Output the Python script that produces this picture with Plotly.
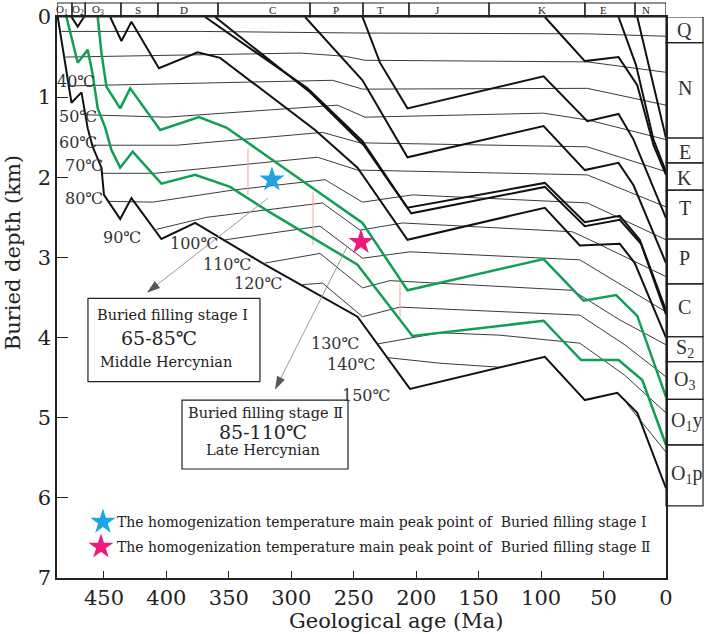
import plotly.graph_objects as go

# periods in the top strip (boundary ages in Ma, label positions)
period_names = ["O<sub>1</sub>", "O<sub>2</sub>", "O<sub>3</sub>", "S", "D", "C", "P", "T", "J", "K", "E", "N"]
period_bounds = [487.6, 475.6, 465.0, 436.4, 406.8, 358.7, 285.0, 242.6, 205.8, 141.7, 64.9, 24.8, 0]
period_label_age = [483.6, 470.8, 454.8, 422.8, 386.0, 314.7, 264.2, 228.2, 182.6, 99.3, 50.4, 16.0]

# present-day strata column (depths in km)
strata_names = ["Q", "N", "E", "K", "T", "P", "C", "S<sub>2</sub>", "O<sub>3</sub>", "O<sub>1</sub>y", "O<sub>1</sub>p"]
strata_bounds = [0, 0.32, 1.51, 1.82, 2.16, 2.77, 3.33, 3.99, 4.30, 4.77, 5.34, 6.10]
strata_label_depth = [0.16, 0.89, 1.68, 2.01, 2.38, 3.01, 3.62, 4.14, 4.53, 5.05, 5.71]

# burial curves (age Ma, depth km)
o1p_age = [487, 476, 468, 463, 459, 452, 450, 437, 428, 404, 377, 320, 247, 205, 97, 65, 39, 23, 0]
o1p_depth = [0, 1.07, 0.94, 1.39, 1.62, 1.88, 2.22, 2.52, 2.26, 2.77, 2.57, 3.10, 3.74, 4.64, 4.24, 4.78, 4.69, 4.94, 5.88]
o2_age = [476, 471, 466]
o2_depth = [0, 0.12, 0]
s_age = [445, 436, 428, 406, 375, 357, 281, 247, 207, 97, 69, 37, 25, 0]
s_depth = [0, 0.30, 0.06, 0.64, 0.44, 0.51, 1.41, 1.88, 2.78, 2.38, 2.85, 2.83, 3.07, 4.0]
c1_age = [369, 287, 243, 207, 97, 65, 37, 21, 0]
c1_depth = [0, 0.89, 1.55, 2.38, 2.07, 2.56, 2.48, 2.78, 3.66]
c2_age = [361, 285, 242, 204, 97, 65, 37, 20, 0]
c2_depth = [0, 0.94, 1.60, 2.45, 2.12, 2.61, 2.53, 2.83, 3.71]
p_age = [289, 243, 207, 98, 65, 38, 26, 0]
p_depth = [0, 0.79, 1.75, 1.36, 1.91, 1.82, 2.10, 3.07]
t_age = [243, 229, 207, 98, 63, 38, 26, 0]
t_depth = [0, 0.57, 1.14, 0.74, 1.30, 1.21, 1.53, 2.51]
k_age = [97, 65, 38, 23, 10, 0]
k_depth = [0, 0.55, 0.50, 0.85, 1.60, 1.97]
e_age = [38, 24, 10, 0]
e_depth = [0, 0.60, 1.53, 1.93]
n_age = [23, 0]
n_depth = [0, 1.51]

# green curves
g_upper_age = [455, 452, 448, 437, 429, 405, 374, 352, 243, 207, 98, 66, 40, 23, 0]
g_upper_depth = [0, 0.45, 0.87, 1.14, 0.89, 1.41, 1.25, 1.38, 2.57, 3.41, 3.02, 3.54, 3.47, 3.73, 4.74]
g_lower_age = [480, 471, 463, 459, 455, 449, 444, 437, 427, 404, 377, 349, 320, 247, 203, 98, 68, 38, 19, 0]
g_lower_depth = [0, 0.57, 0.41, 0.72, 1.14, 1.38, 1.66, 1.88, 1.68, 2.08, 1.97, 2.12, 2.41, 3.09, 3.98, 3.79, 4.28, 4.28, 4.53, 5.34]

# isotherms
iso20_age = [484, 373, 245, 63, 0]
iso20_depth = [0.18, 0.18, 0.20, 0.21, 0.24]
iso30_age = [481, 293, 257, 241, 63, 0]
iso30_depth = [0.50, 0.45, 0.49, 0.54, 0.56, 0.69]
iso40_age = [478, 267, 243, 63, 0]
iso40_depth = [0.86, 0.79, 0.90, 0.89, 1.10]
iso50_age = [464, 400, 263, 241, 98, 61, 0]
iso50_depth = [1.22, 1.25, 1.10, 1.25, 1.20, 1.29, 1.53]
iso60_age = [460, 392, 275, 245, 63, 0]
iso60_depth = [1.60, 1.60, 1.44, 1.57, 1.62, 1.93]
iso70_age = [452, 409, 279, 247, 63, 0]
iso70_depth = [1.95, 1.95, 1.75, 1.91, 1.97, 2.37]
iso80_age = [447, 411, 347, 273, 243, 203, 63, 0]
iso80_depth = [2.30, 2.31, 2.16, 2.03, 2.31, 2.22, 2.32, 2.78]
iso90_age = [408, 368, 275, 245, 211, 75, 61, 0]
iso90_depth = [2.65, 2.50, 2.32, 2.66, 2.57, 2.68, 2.78, 3.24]
iso100_age = [353, 277, 243, 205, 69, 29, 0]
iso100_depth = [2.78, 2.61, 3.01, 2.93, 3.03, 3.41, 3.68]
iso110_age = [321, 277, 243, 221, 75, 37, 0]
iso110_depth = [3.07, 2.95, 3.38, 3.29, 3.41, 3.78, 4.09]
iso120_age = [291, 275, 243, 213, 69, 33, 0]
iso120_depth = [3.34, 3.32, 3.74, 3.62, 3.72, 4.09, 4.49]
iso130_age = [231, 181, 133, 69, 33, 0]
iso130_depth = [4.08, 3.94, 3.97, 4.07, 4.47, 4.94]
iso140_age = [223, 181, 133, None, 31, 13, 0]
iso140_depth = [4.25, 4.32, 4.37, None, 4.83, 5.18, 5.43]

temp_values = [40, 50, 60, 70, 80, 90, 100, 110, 120, 130, 140, 150]
temp_label_age = [472.4, 470.8, 470.8, 466.0, 466.0, 435.6, 377.9, 351.5, 326.7, 265.0, 252.2, 240.2]
temp_label_depth = [0.80, 1.24, 1.56, 1.85, 2.26, 2.75, 2.83, 3.09, 3.33, 4.07, 4.34, 4.72]

# homogenization temperature peak points
star_age = [315.5, 244.2]
star_depth = [2.03, 2.81]
# red links between the green curves
red_age = [334.7, 282.6, 213.0]
red_top = [1.64, 2.18, 3.32]
red_bottom = [2.22, 2.85, 3.74]
# pointer lines to the boxes
arrow1_age = [318.7, 415.6]
arrow1_depth = [2.26, 3.44]
arrow2_age = [255.4, 313.1]
arrow2_depth = [2.87, 4.65]

SERIF = "DejaVu Serif, serif"
TIMES = "Liberation Serif, Noto Sans CJK SC, serif"
BLUE = "#1fa3e3"
PINK = "#ec1a7d"
GREEN = "#10a055"

fig = go.Figure()


def add_line(ages, depths, color, width):
    fig.add_trace(go.Scatter(x=ages, y=depths, mode="lines",
                             line=dict(color=color, width=width),
                             hoverinfo="skip", showlegend=False, connectgaps=False))


for a, d in [(iso20_age, iso20_depth), (iso30_age, iso30_depth), (iso40_age, iso40_depth),
             (iso50_age, iso50_depth), (iso60_age, iso60_depth), (iso70_age, iso70_depth),
             (iso80_age, iso80_depth), (iso90_age, iso90_depth), (iso100_age, iso100_depth),
             (iso110_age, iso110_depth), (iso120_age, iso120_depth), (iso130_age, iso130_depth),
             (iso140_age, iso140_depth)]:
    add_line(a, d, "#3a3a3a", 1)

# red links
rx, ry = [], []
for a, t, b in zip(red_age, red_top, red_bottom):
    rx += [a, a, None]
    ry += [t, b, None]
add_line(rx, ry, "#f4a0a0", 1)

for a, d in [(o1p_age, o1p_depth), (o2_age, o2_depth), (s_age, s_depth), (c1_age, c1_depth),
             (c2_age, c2_depth), (p_age, p_depth), (t_age, t_depth), (k_age, k_depth),
             (e_age, e_depth), (n_age, n_depth)]:
    add_line(a, d, "#111111", 2)

add_line(g_upper_age, g_upper_depth, GREEN, 2.5)
add_line(g_lower_age, g_lower_depth, GREEN, 2.5)

for a, d in [(arrow1_age, arrow1_depth), (arrow2_age, arrow2_depth)]:
    fig.add_trace(go.Scatter(x=a, y=d, mode="lines+markers",
                             line=dict(color="#9a9a9a", width=1),
                             marker=dict(symbol="arrow", size=[0, 14], color="#111",
                                         angleref="previous", line=dict(width=0)),
                             hoverinfo="skip", showlegend=False))

fig.add_trace(go.Scatter(x=star_age, y=star_depth, mode="markers",
                         marker=dict(symbol="star", size=19, color=[BLUE, PINK], line=dict(width=0)),
                         hoverinfo="skip", showlegend=False))

shapes = []
ann = []

# top strip
for i, name in enumerate(period_names):
    shapes.append(dict(type="rect", xref="x", yref="paper", x0=period_bounds[i], x1=period_bounds[i + 1],
                       y0=1, y1=1.025, line=dict(color="#222", width=1.2)))
    ann.append(dict(x=period_label_age[i], y=1.0125, xref="x", yref="paper", text=name, showarrow=False,
                    xanchor="center", yanchor="middle",
                    font=dict(family=TIMES, size=11, color="#222")))

# right strata column
for i, name in enumerate(strata_names):
    shapes.append(dict(type="rect", xref="paper", yref="y", x0=1, x1=1.0608,
                       y0=strata_bounds[i], y1=strata_bounds[i + 1], line=dict(color="#222", width=1.2)))
    left = name.endswith("y") or name.endswith("p")
    ann.append(dict(x=1.005 if left else 1.0304, y=strata_label_depth[i], xref="paper", yref="y",
                    text=name, showarrow=False, xanchor="left" if left else "center", yanchor="middle",
                    font=dict(family=TIMES, size=20, color="#333")))

for t, a, d in zip(temp_values, temp_label_age, temp_label_depth):
    ann.append(dict(x=a, y=d, xref="x", yref="y", text=f"{t}℃", showarrow=False,
                    font=dict(family=SERIF, size=16, color="#333")))

# stage boxes
shapes.append(dict(type="rect", xref="x", yref="y", x0=462.8, x1=325.1, y0=3.51, y1=4.55,
                   line=dict(color="#222", width=1.2), fillcolor="white"))
shapes.append(dict(type="rect", xref="x", yref="y", x0=387.5, x1=254.6, y0=4.78, y1=5.64,
                   line=dict(color="#222", width=1.2), fillcolor="white"))
box_text = [
    (395.5, 3.72, "Buried filling stage I", 14.5),
    (406.0, 4.00, "65-85℃", 19),
    (400.4, 4.30, "Middle Hercynian", 14.5),
    (321.0, 4.94, "Buried filling stage Ⅱ", 14.5),
    (322.7, 5.18, "85-110℃", 19),
    (323.0, 5.40, "Late Hercynian", 14.5),
]
for x, y, txt, sz in box_text:
    ann.append(dict(x=x, y=y, xref="x", yref="y", text=txt, showarrow=False,
                    font=dict(family=SERIF, size=sz, color="#222")))

# legend
fig.add_trace(go.Scatter(x=[450.8, 452.4], y=[6.30, 6.61], mode="markers",
                         marker=dict(symbol="star", size=19, color=[BLUE, PINK], line=dict(width=0)),
                         hoverinfo="skip", showlegend=False))
for y, stage in [(6.30, "I"), (6.61, "Ⅱ")]:
    ann.append(dict(x=441.2, y=y, xref="x", yref="y", xanchor="left", showarrow=False,
                    text="The homogenization temperature main peak point of  Buried filling stage " + stage,
                    font=dict(family=SERIF, size=14, color="#222")))

# axis titles
ann.append(dict(x=-0.0722, y=0.579, xref="paper", yref="paper", text="Buried depth (km)", textangle=-90,
                xanchor="center", yanchor="middle",
                showarrow=False, font=dict(family=SERIF, size=21, color="#222")))
ann.append(dict(x=0.5575, y=-0.0766, xref="paper", yref="paper", text="Geological age (Ma)",
                xanchor="center", yanchor="middle",
                showarrow=False, font=dict(family=SERIF, size=21, color="#222")))

fig.update_layout(
    width=706, height=634,
    margin=dict(l=57, r=40, t=17, b=56, autoexpand=False),
    paper_bgcolor="white", plot_bgcolor="white",
    shapes=shapes, annotations=ann,
    xaxis=dict(range=[487.6, 0], tickvals=[450, 400, 350, 300, 250, 200, 150, 100, 50, 0],
               ticks="inside", ticklen=7, tickcolor="#222", showgrid=False, zeroline=False,
               showline=True, mirror=True, linecolor="#222", linewidth=1.5, automargin=False,
               tickfont=dict(family=SERIF, size=21, color="#222")),
    yaxis=dict(range=[7, 0], tickvals=[0, 1, 2, 3, 4, 5, 6, 7],
               ticks="inside", ticklen=11, tickcolor="#222", showgrid=False, zeroline=False,
               showline=True, mirror=True, linecolor="#222", linewidth=1.5, automargin=False,
               tickfont=dict(family=SERIF, size=21, color="#222")),
)

# page body has a default margin; drop it so the figure fills the window
fig.write_html("out.html", config={"displayModeBar": False},
               post_script="document.body.style.margin='0';")
